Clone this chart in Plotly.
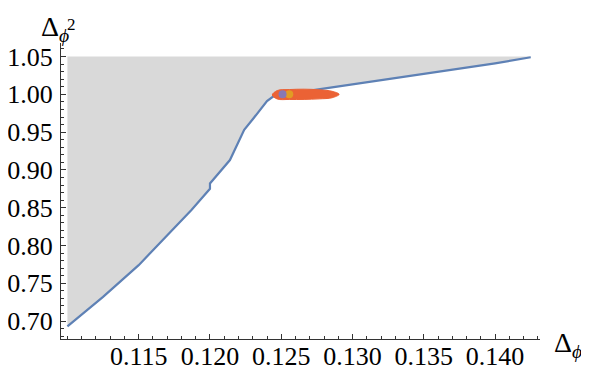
import plotly.graph_objects as go

# Boundary curve (Δφ, Δφ²)
delta_phi = [0.1100, 0.1125, 0.1150, 0.1175, 0.1187, 0.1200, 0.1200, 0.1214, 0.1224,
             0.1230, 0.1240, 0.1245, 0.1250, 0.1263, 0.1300, 0.1336, 0.1360, 0.1400, 0.1425]
delta_phi2 = [0.693, 0.732, 0.774, 0.823, 0.847, 0.875, 0.882, 0.913, 0.953,
              0.967, 0.991, 0.998, 1.000, 1.003, 1.013, 1.023, 1.030, 1.041, 1.049]
region_top = 1.05

# Allowed island (outline of the orange cloud)
blob_x = [0.12437, 0.12472, 0.12556, 0.12661, 0.12766, 0.12857, 0.12906,
          0.12857, 0.12766, 0.12661, 0.12556, 0.12472, 0.12437]
blob_y = [0.9991, 1.0050, 1.0063, 1.0068, 1.0060, 1.0040, 1.0000,
          0.9955, 0.9940, 0.9933, 0.9932, 0.9938, 0.9991]

# Marker points
pt1 = (0.12509, 1.000)
pt2 = (0.12556, 1.000)

x_ticks = [0.115, 0.120, 0.125, 0.130, 0.135, 0.140]
y_ticks = [0.70, 0.75, 0.80, 0.85, 0.90, 0.95, 1.00, 1.05]

fig = go.Figure()

# Gray excluded region
fig.add_trace(go.Scatter(
    x=delta_phi + [delta_phi[-1], delta_phi[0]],
    y=delta_phi2 + [region_top, region_top],
    fill="toself", fillcolor="#d9d9d9", mode="none", hoverinfo="skip"))

# Boundary line
fig.add_trace(go.Scatter(x=delta_phi, y=delta_phi2, mode="lines",
                         line=dict(color="#5E81B5", width=2.2)))

# Orange island
fig.add_trace(go.Scatter(x=blob_x, y=blob_y, mode="lines", fill="toself",
                         fillcolor="#EB6235", line=dict(color="#EB6235", width=1, shape="spline")))

fig.add_trace(go.Scatter(x=[pt2[0]], y=[pt2[1]], mode="markers",
                         marker=dict(color="#E19C24", size=8)))
fig.add_trace(go.Scatter(x=[pt1[0]], y=[pt1[1]], mode="markers",
                         marker=dict(color="#8778B3", size=8)))

serif = "Liberation Serif"
tick_font = dict(family=serif, size=26, color="black")
axis_col = "#333333"

fig.update_layout(
    width=581, height=367,
    margin=dict(l=53, r=49, t=35, b=36, autoexpand=False),
    paper_bgcolor="white", plot_bgcolor="white",
    font=dict(family=serif),
    showlegend=False,
    xaxis=dict(range=[0.10955, 0.14315], showgrid=False, zeroline=False,
               showline=True, linecolor=axis_col, linewidth=1, automargin=False,
               ticks="inside", ticklen=5, tickcolor=axis_col,
               tickvals=x_ticks, ticktext=[f"{v:.3f}" for v in x_ticks],
               tickfont=tick_font, ticklabelstandoff=-6,
               minor=dict(ticks="inside", ticklen=3, dtick=0.001, tick0=0.110,
                          tickcolor=axis_col, showgrid=False)),
    yaxis=dict(range=[0.6763, 1.0679], showgrid=False, zeroline=False,
               showline=True, linecolor=axis_col, linewidth=1, automargin=False,
               ticks="inside", ticklen=5, tickcolor=axis_col,
               tickvals=y_ticks, ticktext=[f"{v:.2f}" for v in y_ticks],
               tickfont=tick_font, ticklabelstandoff=2,
               minor=dict(ticks="inside", ticklen=3, dtick=0.01, tick0=0.70,
                          tickcolor=axis_col, showgrid=False)),
    annotations=[
        dict(text="Δ<sub><i>ϕ</i></sub>", xref="paper", yref="paper",
             x=1.025, y=-0.02, xanchor="left", yanchor="middle", showarrow=False,
             font=dict(family=serif, size=28, color="black")),
        dict(text="Δ<sub><i>ϕ</i></sub>", xref="paper", yref="paper",
             x=-0.046, y=1.115, xanchor="left", yanchor="top", showarrow=False,
             font=dict(family=serif, size=28, color="black")),
        dict(text="2", xref="paper", yref="paper",
             x=0.009, y=1.10, xanchor="left", yanchor="top", showarrow=False,
             font=dict(family=serif, size=17, color="black")),
    ],
)

fig.write_html("out.html")
